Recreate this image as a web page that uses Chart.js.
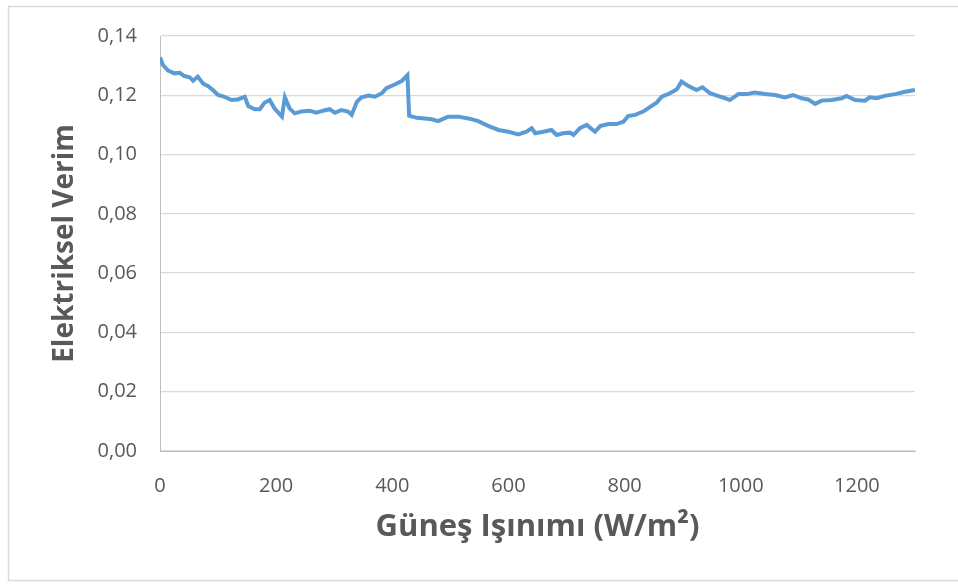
<!DOCTYPE html>
<html>
<head>
<meta charset="utf-8">
<script src="https://cdn.jsdelivr.net/npm/chart.js@4"></script>
<style>
  html, body { margin: 0; padding: 0; background: #fff; }
  canvas { display: block; }
</style>
</head>
<body>
<canvas id="chart" width="958" height="584"></canvas>
<script>
// irradiance (W/m2) and electrical efficiency
const irradiance = [
    0, 5, 14, 25, 34, 42, 51, 57, 65, 74,
    83, 91, 100, 111, 123, 134, 146, 152, 163, 172,
    180, 189, 197, 210, 215, 223, 232, 243, 258, 269,
    281, 292, 301, 312, 324, 330, 339, 347, 359, 370,
    382, 390, 405, 416, 426, 429, 442, 456, 468, 479,
    496, 514, 531, 548, 565, 583, 600, 617, 631, 640,
    646, 660, 674, 683, 694, 706, 712, 723, 735, 749,
    758, 772, 786, 798, 806, 818, 832, 844, 855, 864,
    878, 890, 898, 910, 924, 934, 947, 958, 973, 981,
    996, 1010, 1024, 1042, 1059, 1076, 1090, 1105, 1116, 1128,
    1139, 1156, 1174, 1182, 1197, 1214, 1222, 1234, 1248, 1266,
    1283, 1300
];
const efficiency = [
    0.1328, 0.1302, 0.1283, 0.1274, 0.1276, 0.1265, 0.1261, 0.1249, 0.1263, 0.1240,
    0.1231, 0.1218, 0.1201, 0.1195, 0.1184, 0.1186, 0.1195, 0.1164, 0.1153, 0.1153,
    0.1175, 0.1184, 0.1156, 0.1128, 0.1193, 0.1156, 0.1139, 0.1145, 0.1148, 0.1141,
    0.1148, 0.1153, 0.1141, 0.1150, 0.1145, 0.1134, 0.1178, 0.1193, 0.1199, 0.1195,
    0.1207, 0.1224, 0.1237, 0.1248, 0.1268, 0.1131, 0.1124, 0.1122, 0.1119, 0.1113,
    0.1128, 0.1128, 0.1122, 0.1113, 0.1097, 0.1083, 0.1077, 0.1068, 0.1077, 0.1089,
    0.1072, 0.1077, 0.1083, 0.1066, 0.1072, 0.1074, 0.1066, 0.1089, 0.1100, 0.1077,
    0.1096, 0.1103, 0.1103, 0.1111, 0.1130, 0.1134, 0.1145, 0.1161, 0.1175, 0.1195,
    0.1207, 0.1220, 0.1246, 0.1231, 0.1218, 0.1227, 0.1207, 0.1200, 0.1190, 0.1184,
    0.1204, 0.1204, 0.1209, 0.1204, 0.1201, 0.1193, 0.1201, 0.1190, 0.1186, 0.1171,
    0.1182, 0.1184, 0.1190, 0.1198, 0.1184, 0.1182, 0.1193, 0.1190, 0.1198, 0.1204,
    0.1212, 0.1218
];
const xTicks = [0, 200, 400, 600, 800, 1000, 1200];
const yTicks = [0, 0.02, 0.04, 0.06, 0.08, 0.10, 0.12, 0.14];

const xTitle = 'Güneş Işınımı (W/m²)';
const yTitle = 'Elektriksel Verim';

const FONT = "'Open Sans', sans-serif";
const GREY = '#595959';

// light frame around the whole chart, like the office export
const framePlugin = {
    id: 'frame',
    beforeDraw(chart) {
        const ctx = chart.ctx;
        ctx.save();
        ctx.fillStyle = '#fff';
        ctx.fillRect(0, 0, chart.width, chart.height);
        ctx.strokeStyle = '#d9d9d9';
        ctx.lineWidth = 1.5;
        ctx.strokeRect(8.5, 6.5, 960, 574);
        ctx.restore();
    }
};

const points = irradiance.map((x, i) => ({ x: x, y: efficiency[i] }));

new Chart(document.getElementById('chart'), {
    type: 'line',
    data: {
        datasets: [{
            data: points,
            borderColor: '#5b9bd5',
            borderWidth: 4,
            pointRadius: 0,
            tension: 0,
            fill: false
        }]
    },
    options: {
        responsive: false,
        animation: false,
        events: [],
        layout: { padding: { top: 36, right: 43, bottom: 0, left: 0 } },
        plugins: {
            legend: { display: false },
            tooltip: { enabled: false }
        },
        scales: {
            x: {
                type: 'linear',
                min: 0,
                max: 1300,
                afterFit: scale => { scale.height = 133; },
                afterBuildTicks: scale => { scale.ticks = xTicks.map(v => ({ value: v })); },
                grid: { display: false },
                border: { display: true, color: '#bfbfbf', width: 1 },
                ticks: {
                    color: GREY,
                    font: { family: FONT, size: 20 },
                    padding: 15,
                    maxRotation: 0,
                    callback: v => String(v)
                },
                title: {
                    display: true,
                    text: xTitle,
                    color: GREY,
                    font: { family: FONT, size: 31, weight: 'bold' },
                    padding: { top: 0, bottom: 38 }
                }
            },
            y: {
                min: 0,
                max: 0.14,
                afterFit: scale => { scale.width = 160; },
                afterBuildTicks: scale => { scale.ticks = yTicks.map(v => ({ value: v })); },
                grid: { color: '#d9d9d9', lineWidth: 1.3, drawTicks: false },
                border: { display: true, color: '#bfbfbf', width: 1 },
                ticks: {
                    color: GREY,
                    font: { family: FONT, size: 20 },
                    padding: 23,
                    callback: v => v.toFixed(2).replace('.', ',')
                },
                title: {
                    display: true,
                    text: yTitle,
                    color: GREY,
                    font: { family: FONT, size: 28, weight: 'bold' },
                    padding: { top: 48, bottom: 0 }
                }
            }
        }
    },
    plugins: [framePlugin]
});
</script>
</body>
</html>
